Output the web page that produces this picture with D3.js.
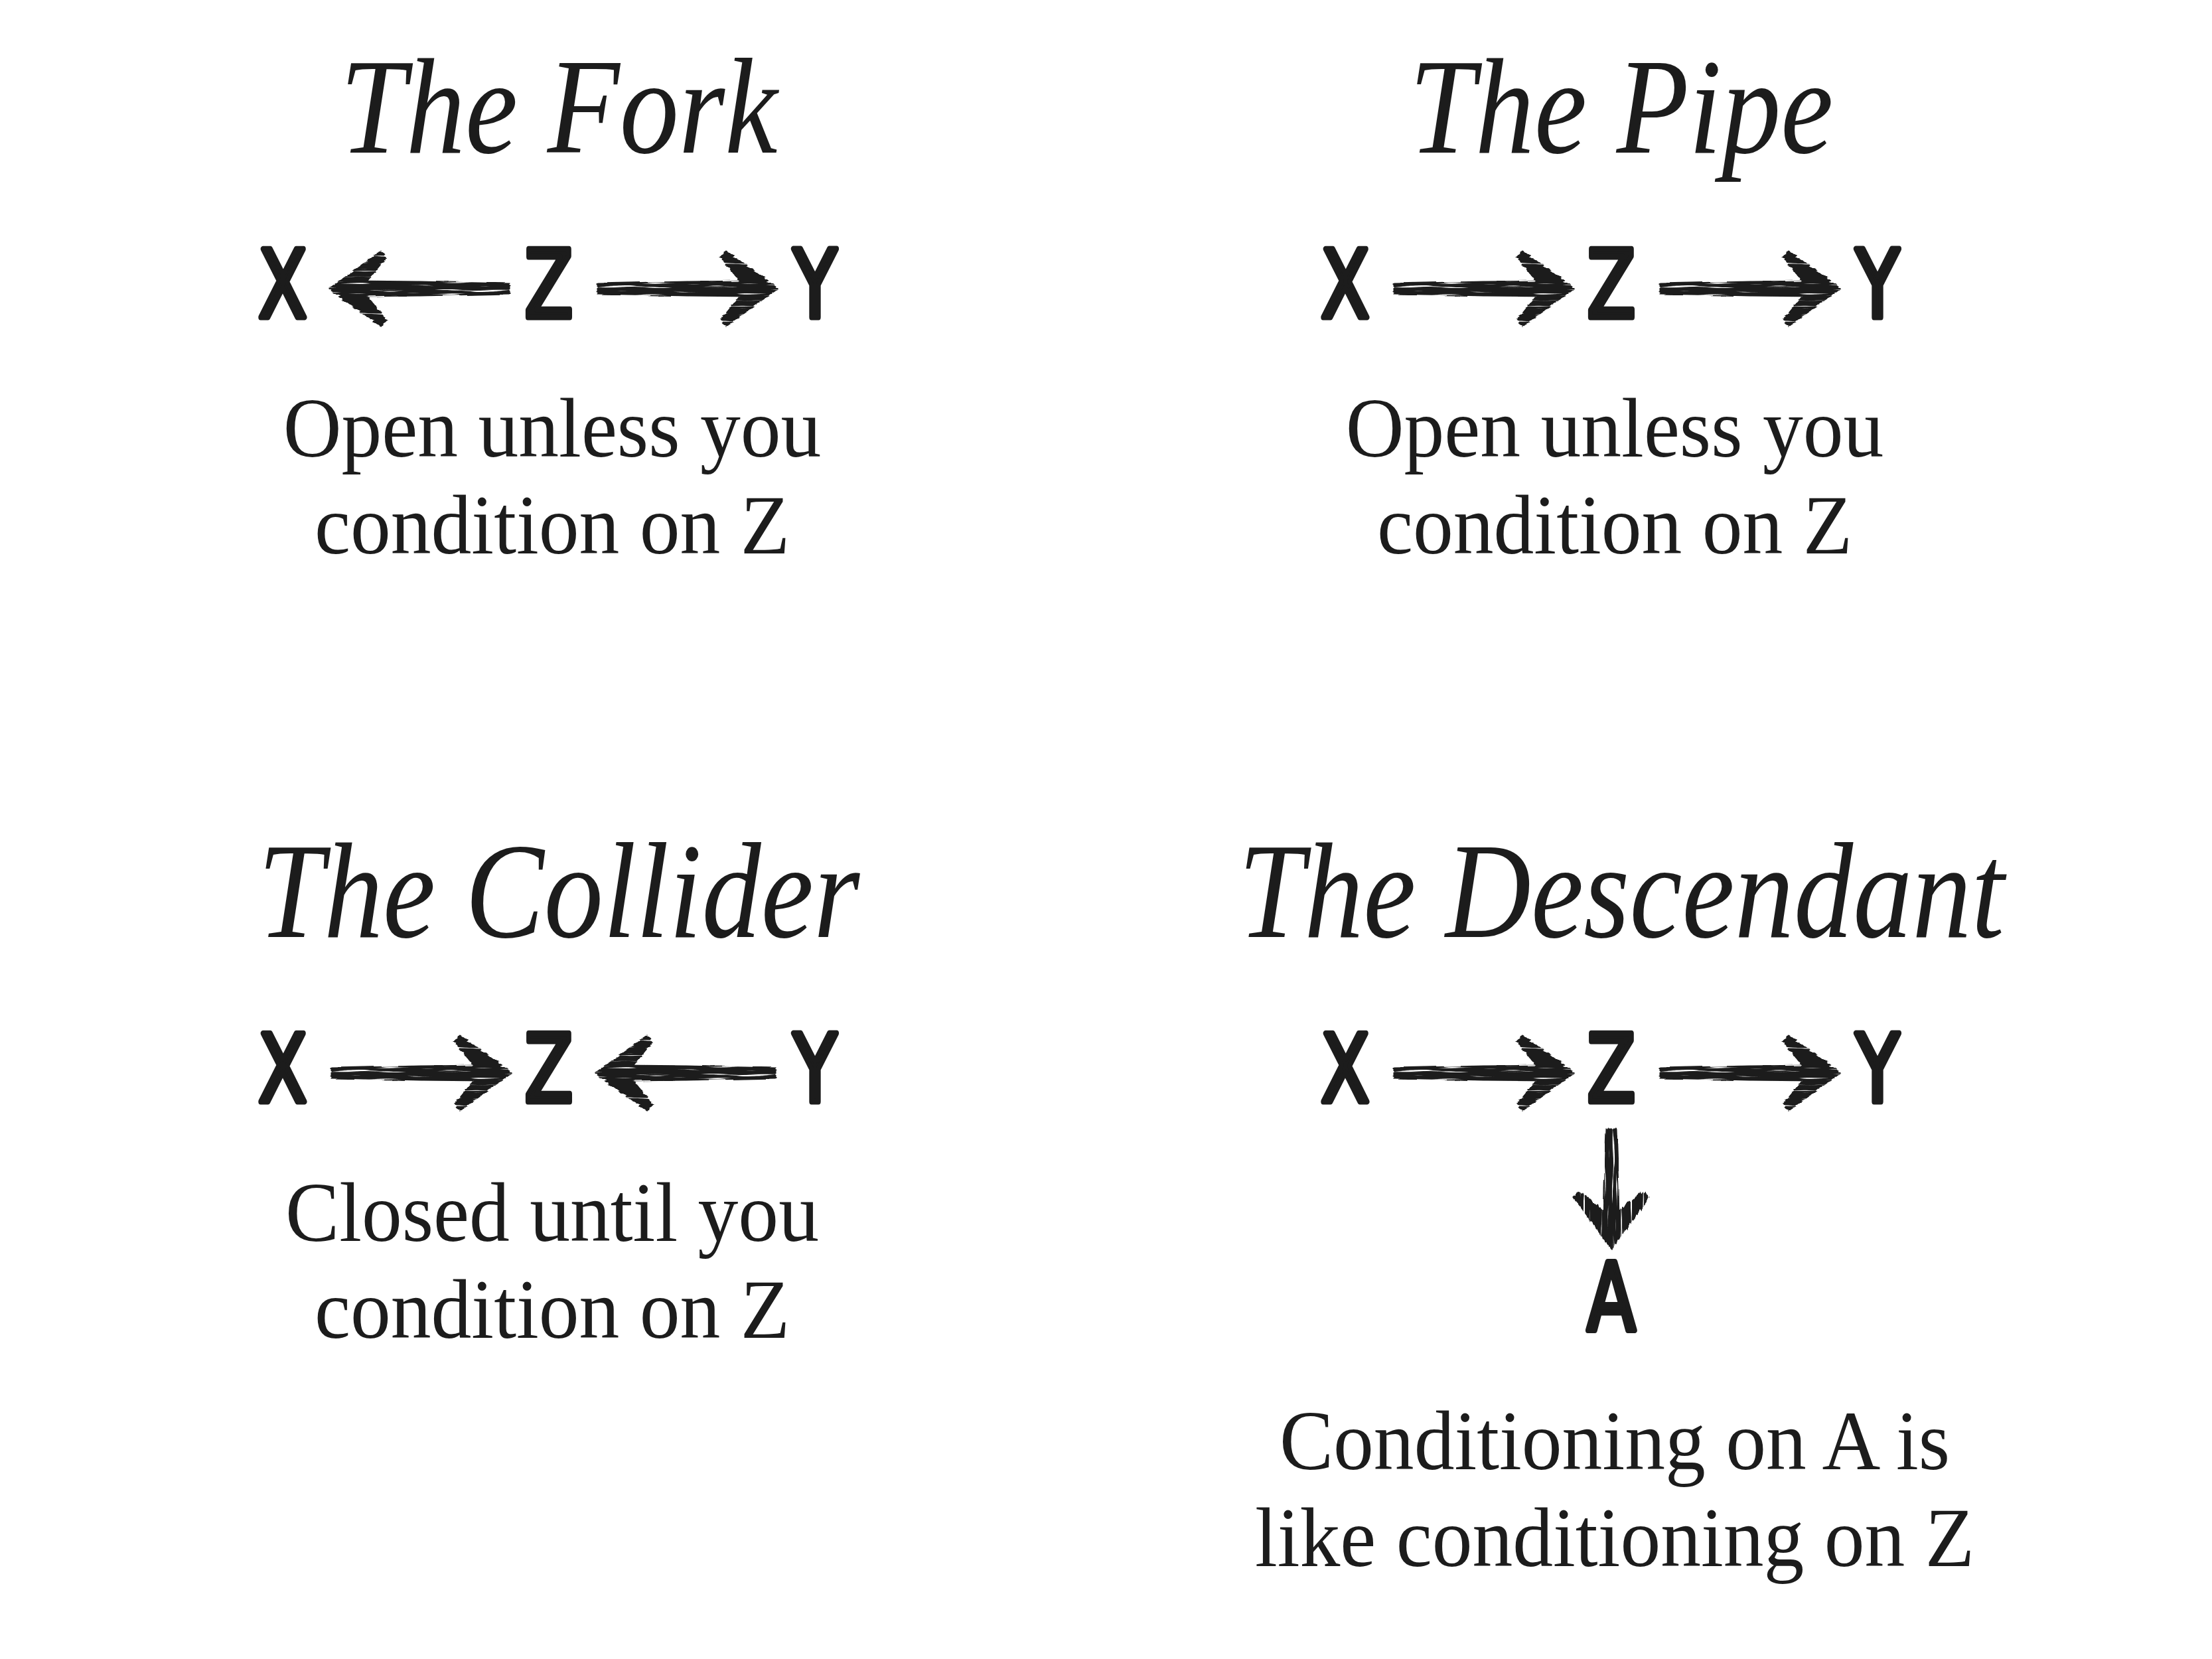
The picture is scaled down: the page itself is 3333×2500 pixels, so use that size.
<!DOCTYPE html>
<html lang="en">
<head>
<meta charset="utf-8">
<title>The four elemental confounds</title>
<style>
  body { margin: 0; background: #fff; }
  svg { display: block; }
  .title { font-family: "Liberation Serif", "DejaVu Serif", serif; font-style: italic; font-size: 205px; fill: #1c1c1c; }
  .caption { font-family: "Liberation Serif", "DejaVu Serif", serif; font-size: 128px; fill: #1c1c1c; }
  .node { font-family: "DejaVu Sans", sans-serif; font-weight: normal; font-size: 140px; fill: #1c1c1c;
          stroke: #1c1c1c; stroke-width: 9; stroke-linejoin: round; }
  .arrow path { fill: #1c1c1c; stroke: #1c1c1c; stroke-width: 3; stroke-linejoin: round; }
</style>
<script src="https://cdn.jsdelivr.net/npm/d3@7"></script>
</head>
<body>
<div id="chart"></div>
<script>
var width = 3333, height = 2500;

// ---- data ----
var titles = ["The Fork", "The Pipe", "The Collider", "The Descendant"];
var captions = [
    ["Open unless you", "condition on Z"],
    ["Open unless you", "condition on Z"],
    ["Closed until you", "condition on Z"],
    ["Conditioning on A is", "like conditioning on Z"]
];
var panelNodes = [
    ["X", "Z", "Y"],
    ["X", "Z", "Y"],
    ["X", "Z", "Y"],
    ["X", "Z", "Y", "A"]
];
// [from, to]
var panelEdges = [
    [["Z", "X"], ["Z", "Y"]],
    [["X", "Z"], ["Z", "Y"]],
    [["X", "Z"], ["Y", "Z"]],
    [["X", "Z"], ["Z", "Y"], ["Z", "A"]]
];
// where each node sits in the little graph: chain column and level below it
var nodeColumn = {X: 0, Z: 1, Y: 2, A: 1};
var nodeLevel = {X: 0, Z: 0, Y: 0, A: 1};

// ---- layout ----
var panelCol = d3.scalePoint().domain([0, 1]).range([832, 2433]);
var panelRow = d3.scalePoint().domain([0, 1]).range([230, 1412]);
var colX = d3.scalePoint().domain([0, 1, 2]).range([-406, 396]);
var levelY = d3.scaleLinear().domain([0, 1]).range([248, 592]);

var titleSqueeze = 0.87, captionSqueeze = 0.95, nodeSqueeze = 0.76;
var lineGap = 146;

var svg = d3.select("#chart").append("svg")
    .attr("width", width)
    .attr("height", height);

svg.append("rect").attr("width", width).attr("height", height).attr("fill", "#fff");

// brushy ink texture for the arrows
var defs = svg.append("defs");
var brush = defs.append("filter").attr("id", "brush")
    .attr("x", "-10%").attr("y", "-60%").attr("width", "120%").attr("height", "220%");
brush.append("feTurbulence")
    .attr("type", "fractalNoise").attr("baseFrequency", "0.015 0.25")
    .attr("numOctaves", 2).attr("seed", 7).attr("result", "noise");
brush.append("feDisplacementMap")
    .attr("in", "SourceGraphic").attr("in2", "noise").attr("scale", 7)
    .attr("xChannelSelector", "R").attr("yChannelSelector", "G").attr("result", "disp");
brush.append("feColorMatrix")
    .attr("in", "noise").attr("type", "matrix")
    .attr("values", "0 0 0 0 0  0 0 0 0 0  0 0 0 0 0  8 0 0 0 -1.9")
    .attr("result", "streak");
brush.append("feComposite").attr("in", "disp").attr("in2", "streak").attr("operator", "in");

function squeeze(sel, k) {
    sel.each(function () {
        var len = this.getComputedTextLength();
        d3.select(this).attr("textLength", len * k).attr("lengthAdjust", "spacingAndGlyphs");
    });
}

function arrowPath(L) {
    var p = d3.path();
    // shaft, a bit thinner at the tail
    p.moveTo(0, -7);
    p.lineTo(L * 0.5, -10);
    p.lineTo(L - 36, -11);
    p.lineTo(L - 36, 11);
    p.lineTo(L * 0.5, 10);
    p.lineTo(0, 7);
    p.closePath();
    // head
    p.moveTo(L - 74, -56);
    p.lineTo(L + 3, 0);
    p.lineTo(L - 74, 56);
    p.lineTo(L - 81, 47);
    p.lineTo(L - 43, 0);
    p.lineTo(L - 81, -47);
    p.closePath();
    return p.toString();
}

function edgeGeom(e) {
    var s = e[0], t = e[1];
    var sx = colX(nodeColumn[s]), sy = levelY(nodeLevel[s]);
    var tx = colX(nodeColumn[t]), ty = levelY(nodeLevel[t]);
    if (nodeLevel[s] === nodeLevel[t]) {
        var y = sy - 43;
        var left = Math.min(sx, tx) + 74, right = Math.max(sx, tx) - 60;
        if (tx > sx) return {x: left, y: y, len: right - left, angle: 0};
        return {x: right, y: y, len: right - left, angle: 180};
    }
    var y0 = sy + 42, y1 = ty - 126;
    return {x: sx, y: y0, len: y1 - y0, angle: 90};
}

var panels = svg.selectAll("g.panel")
    .data(titles)
    .enter().append("g")
    .attr("class", "panel")
    .attr("transform", function (d, i) {
        return "translate(" + panelCol(i % 2) + "," + panelRow(Math.floor(i / 2)) + ")";
    });

panels.append("text")
    .attr("class", "title")
    .attr("x", 10)
    .attr("y", 0)
    .attr("text-anchor", "middle")
    .text(function (d) { return d; })
    .call(squeeze, titleSqueeze);

panels.each(function (title, i) {
    var g = d3.select(this);

    g.selectAll("g.arrow")
        .data(panelEdges[i].map(edgeGeom))
        .enter().append("g")
        .attr("class", "arrow")
        .attr("transform", function (d) {
            return "translate(" + d.x + "," + d.y + ") rotate(" + d.angle + ")";
        })
        .append("path")
        .attr("filter", "url(#brush)")
        .attr("d", function (d) { return arrowPath(d.len); });

    g.selectAll("text.node")
        .data(panelNodes[i])
        .enter().append("text")
        .attr("class", "node")
        .attr("text-anchor", "middle")
        .attr("transform", function (d) {
            return "translate(" + colX(nodeColumn[d]) + "," + levelY(nodeLevel[d]) + ") scale(" + nodeSqueeze + ",1)";
        })
        .text(function (d) { return d; });

    var lastLevel = d3.max(panelNodes[i], function (d) { return nodeLevel[d]; });
    g.selectAll("text.caption")
        .data(captions[i])
        .enter().append("text")
        .attr("class", "caption")
        .attr("text-anchor", "middle")
        .attr("x", 0)
        .attr("y", function (d, j) { return levelY(lastLevel) + 210 + j * lineGap; })
        .text(function (d) { return d; })
        .call(squeeze, captionSqueeze);
});
</script>
</body>
</html>
